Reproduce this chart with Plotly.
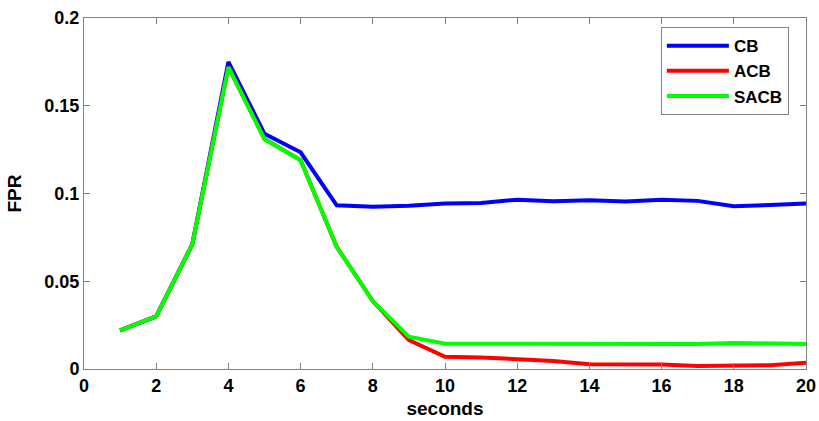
import plotly.graph_objects as go

seconds = list(range(1, 21))
cb = [0.022, 0.030, 0.071, 0.175, 0.134, 0.1235, 0.0933, 0.0924, 0.093, 0.0943,
      0.0946, 0.0965, 0.0956, 0.0961, 0.0954, 0.0965, 0.0958, 0.0927, 0.0935, 0.0943]
acb = [0.022, 0.030, 0.071, 0.172, 0.131, 0.119, 0.0696, 0.0387, 0.0165, 0.0070,
       0.0066, 0.0057, 0.0046, 0.0027, 0.0025, 0.0025, 0.0017, 0.0022, 0.0022, 0.0036]
sacb = [0.022, 0.030, 0.071, 0.172, 0.131, 0.119, 0.0696, 0.0387, 0.0184, 0.0144,
        0.0144, 0.0144, 0.0144, 0.0142, 0.0142, 0.0142, 0.0142, 0.0148, 0.0143, 0.0143]

xticks = list(range(0, 21, 2))
yticks = [0, 0.05, 0.1, 0.15, 0.2]
ytick_text = ["0", "0.05", "0.1", "0.15", "0.2"]

FONT = "Liberation Sans, Arial, sans-serif"

fig = go.Figure()
for name, vals, col in [("CB", cb, "#0000ff"), ("ACB", acb, "#ff0000"), ("SACB", sacb, "#00ff00")]:
    fig.add_trace(go.Scatter(x=seconds, y=vals, name=name, mode="lines",
                             line=dict(color=col, width=4)))

axis_common = dict(showline=True, linecolor="#808080", linewidth=1, mirror="ticks",
                   ticks="inside", ticklen=6, tickcolor="#808080", showgrid=False,
                   zeroline=False, tickfont=dict(family=FONT, size=18, color="black", weight="bold"))

fig.update_xaxes(range=[0, 20], tickvals=xticks, **axis_common,
                 title=dict(text="seconds", font=dict(family=FONT, size=19, color="black", weight="bold"),
                            standoff=7))
fig.update_yaxes(range=[0, 0.2], tickvals=yticks, ticktext=ytick_text, **axis_common,
                 title=dict(text="FPR", font=dict(family=FONT, size=19, color="black", weight="bold"),
                            standoff=17))

fig.update_layout(
    width=819, height=421,
    margin=dict(l=84, r=13, t=18, b=52, autoexpand=False),
    plot_bgcolor="white", paper_bgcolor="white",
    legend=dict(x=0.799, y=0.974, xanchor="left", yanchor="top",
                bordercolor="#808080", borderwidth=1, bgcolor="white",
                font=dict(family=FONT, size=17, color="black", weight="bold"),
                tracegroupgap=0, itemwidth=62),
    showlegend=True,
)

fig.write_html("out.html")
